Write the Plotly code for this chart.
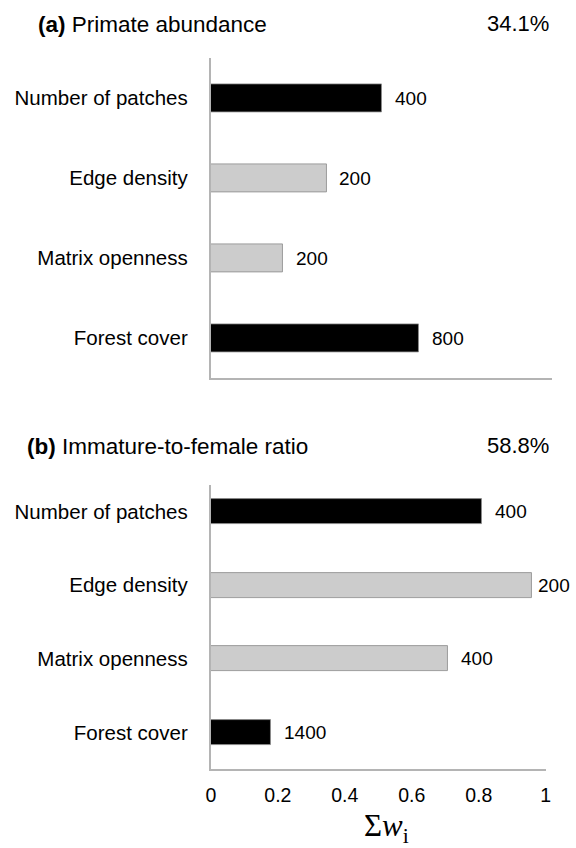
import plotly.graph_objects as go

# ---- data ----
categories = ["Forest cover", "Matrix openness", "Edge density", "Number of patches"]  # bottom -> top
bar_colors = ["#000000", "#cccccc", "#cccccc", "#000000"]

a_values = [0.62, 0.215, 0.345, 0.51]
a_labels = ["800", "200", "200", "400"]
a_title = "<b>(a)</b> Primate abundance"
a_pct = "34.1%"

b_values = [0.18, 0.707, 0.96, 0.81]
b_labels = ["1400", "400", "200", "400"]
b_title = "<b>(b)</b> Immature-to-female ratio"
b_pct = "58.8%"

x_ticks = [0, 0.2, 0.4, 0.6, 0.8, 1]
x_ticktext = ["0", "0.2", "0.4", "0.6", "0.8", "1"]

W, H = 576, 848
SANS = "Liberation Sans, Arial, Helvetica, sans-serif"
AXIS_COLOR = "#b4b4b4"

def px_x(p):
    return p / W

def px_y(p):
    return 1 - p / H

fig = go.Figure()

fig.add_trace(go.Bar(
    x=a_values, y=categories, orientation="h",
    marker=dict(color=bar_colors, line=dict(color="#8a8a8a", width=0.8)),
    width=0.36, xaxis="x", yaxis="y", showlegend=False, hoverinfo="skip",
))
fig.add_trace(go.Bar(
    x=b_values, y=categories, orientation="h",
    marker=dict(color=bar_colors, line=dict(color="#8a8a8a", width=0.8)),
    width=0.34, xaxis="x2", yaxis="y2", showlegend=False, hoverinfo="skip",
))

annotations = []
for vals, labs, xr, yr in [(a_values, a_labels, "x", "y"), (b_values, b_labels, "x2", "y2")]:
    for v, lab, cat in zip(vals, labs, categories):
        annotations.append(dict(
            x=v, y=cat, xref=xr, yref=yr, text=lab, showarrow=False,
            xanchor="left", yanchor="middle", xshift=(4 if v > 0.9 else 11),
            font=dict(family=SANS, size=19, color="#000000"),
        ))

# panel titles and percentages
annotations += [
    dict(x=px_x(32), y=px_y(25), xref="paper", yref="paper", text=a_title, showarrow=False,
         xanchor="left", yanchor="middle", font=dict(family=SANS, size=22.5, color="#000000")),
    dict(x=px_x(556), y=px_y(24), xref="paper", yref="paper", text=a_pct, showarrow=False,
         xanchor="right", yanchor="middle", font=dict(family=SANS, size=22, color="#000000")),
    dict(x=px_x(20), y=px_y(446.5), xref="paper", yref="paper", text=b_title, showarrow=False,
         xanchor="left", yanchor="middle", font=dict(family=SANS, size=22.5, color="#000000")),
    dict(x=px_x(556), y=px_y(445), xref="paper", yref="paper", text=b_pct, showarrow=False,
         xanchor="right", yanchor="middle", font=dict(family=SANS, size=22, color="#000000")),
    dict(x=0.525, y=0, xref="x2", yref="paper", text="Σ<i>w</i><sub>i</sub>", showarrow=False,
         xanchor="center", yanchor="bottom", yshift=-2,
         font=dict(family="Liberation Serif, Times New Roman, serif", size=31, color="#000000")),
]

common_y = dict(
    type="category", categoryorder="array", categoryarray=categories,
    showline=True, linecolor=AXIS_COLOR, linewidth=2, showgrid=False, zeroline=False,
    ticks="", ticklabelstandoff=17,
    tickfont=dict(family=SANS, size=20.5, color="#000000"),
)
common_x = dict(
    showline=True, linecolor=AXIS_COLOR, linewidth=2, showgrid=False, zeroline=False,
    ticks="",
)

fig.update_layout(
    width=W, height=H,
    margin=dict(l=0, r=0, t=0, b=0),
    paper_bgcolor="white", plot_bgcolor="white",
    bargap=0,
    xaxis=dict(domain=[px_x(209.5), px_x(556.5)], range=[0, 1.018], anchor="y",
               showticklabels=False, **common_x),
    yaxis=dict(domain=[px_y(378.3), px_y(58.3)], range=[-0.5, 3.5], anchor="x", **common_y),
    xaxis2=dict(domain=[px_x(209.5), px_x(550.3)], range=[0, 1], anchor="y2",
                tickvals=x_ticks, ticktext=x_ticktext, ticklabelstandoff=7,
                tickfont=dict(family=SANS, size=19.5, color="#000000"), **common_x),
    yaxis2=dict(domain=[px_y(769.3), px_y(485)], range=[-0.5, 3.363], anchor="x2", **common_y),
    annotations=annotations,
)

fig.write_html("out.html")
